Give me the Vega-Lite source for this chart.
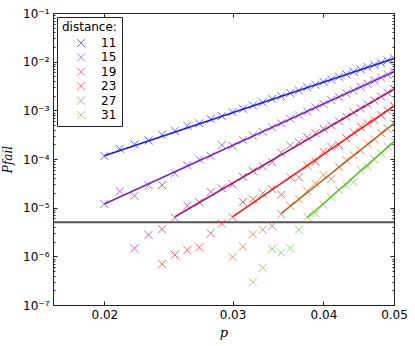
{
  "$schema": "https://vega.github.io/schema/vega-lite/v6.json",
  "width": 341,
  "height": 292,
  "autosize": {"type": "none"},
  "padding": {"left": 53, "top": 13, "right": 21, "bottom": 41},
  "background": "white",
  "config": {
    "font": "DejaVu Sans",
    "view": {"stroke": "#222", "strokeWidth": 1},
    "axis": {"labelFont": "DejaVu Sans", "labelFontSize": 12, "labelColor": "black", "tickColor": "#222", "domain": false, "grid": false}
  },
  "datasets": {
    "pts": [
      {"d": 11, "p": 0.020, "P": 1.15e-4}, {"d": 11, "p": 0.021, "P": 1.62e-4}, {"d": 11, "p": 0.022, "P": 2.0e-4}, {"d": 11, "p": 0.023, "P": 2.4e-4}, {"d": 11, "p": 0.024, "P": 3.16e-4}, {"d": 11, "p": 0.025, "P": 3.8e-4}, {"d": 11, "p": 0.026, "P": 4.8e-4}, {"d": 11, "p": 0.027, "P": 5.4e-4}, {"d": 11, "p": 0.028, "P": 6.6e-4}, {"d": 11, "p": 0.029, "P": 7.6e-4}, {"d": 11, "p": 0.030, "P": 9.2e-4}, {"d": 11, "p": 0.031, "P": 1.08e-3}, {"d": 11, "p": 0.032, "P": 1.26e-3}, {"d": 11, "p": 0.033, "P": 1.45e-3}, {"d": 11, "p": 0.034, "P": 1.72e-3}, {"d": 11, "p": 0.035, "P": 1.95e-3}, {"d": 11, "p": 0.036, "P": 2.26e-3}, {"d": 11, "p": 0.037, "P": 2.57e-3}, {"d": 11, "p": 0.038, "P": 2.99e-3}, {"d": 11, "p": 0.039, "P": 3.35e-3}, {"d": 11, "p": 0.040, "P": 3.85e-3}, {"d": 11, "p": 0.041, "P": 4.3e-3}, {"d": 11, "p": 0.042, "P": 4.9e-3}, {"d": 11, "p": 0.043, "P": 5.5e-3}, {"d": 11, "p": 0.044, "P": 6.2e-3}, {"d": 11, "p": 0.045, "P": 6.9e-3}, {"d": 11, "p": 0.046, "P": 7.7e-3}, {"d": 11, "p": 0.047, "P": 8.6e-3}, {"d": 11, "p": 0.048, "P": 9.5e-3}, {"d": 11, "p": 0.049, "P": 1.06e-2}, {"d": 11, "p": 0.050, "P": 1.17e-2},
      {"d": 15, "p": 0.020, "P": 1.19e-5}, {"d": 15, "p": 0.021, "P": 2.16e-5}, {"d": 15, "p": 0.022, "P": 1.76e-5}, {"d": 15, "p": 0.023, "P": 2.88e-5}, {"d": 15, "p": 0.024, "P": 2.92e-5}, {"d": 15, "p": 0.025, "P": 5.1e-5}, {"d": 15, "p": 0.026, "P": 7.4e-5}, {"d": 15, "p": 0.027, "P": 9.8e-5}, {"d": 15, "p": 0.028, "P": 1.16e-4}, {"d": 15, "p": 0.029, "P": 1.94e-4}, {"d": 15, "p": 0.030, "P": 1.86e-4}, {"d": 15, "p": 0.031, "P": 2.43e-4}, {"d": 15, "p": 0.032, "P": 2.99e-4}, {"d": 15, "p": 0.033, "P": 3.63e-4}, {"d": 15, "p": 0.034, "P": 4.47e-4}, {"d": 15, "p": 0.035, "P": 5.4e-4}, {"d": 15, "p": 0.036, "P": 6.7e-4}, {"d": 15, "p": 0.037, "P": 7.9e-4}, {"d": 15, "p": 0.038, "P": 9.5e-4}, {"d": 15, "p": 0.039, "P": 1.15e-3}, {"d": 15, "p": 0.040, "P": 1.35e-3}, {"d": 15, "p": 0.041, "P": 1.62e-3}, {"d": 15, "p": 0.042, "P": 1.88e-3}, {"d": 15, "p": 0.043, "P": 2.24e-3}, {"d": 15, "p": 0.044, "P": 2.57e-3}, {"d": 15, "p": 0.045, "P": 3.05e-3}, {"d": 15, "p": 0.046, "P": 3.5e-3}, {"d": 15, "p": 0.047, "P": 4.07e-3}, {"d": 15, "p": 0.048, "P": 4.68e-3}, {"d": 15, "p": 0.049, "P": 5.4e-3}, {"d": 15, "p": 0.050, "P": 6.2e-3},
      {"d": 19, "p": 0.022, "P": 1.46e-6}, {"d": 19, "p": 0.023, "P": 2.75e-6}, {"d": 19, "p": 0.024, "P": 3.6e-6}, {"d": 19, "p": 0.025, "P": 6.2e-6}, {"d": 19, "p": 0.026, "P": 1.10e-5}, {"d": 19, "p": 0.027, "P": 1.29e-5}, {"d": 19, "p": 0.028, "P": 2.1e-5}, {"d": 19, "p": 0.029, "P": 2.5e-5}, {"d": 19, "p": 0.030, "P": 3.0e-5}, {"d": 19, "p": 0.031, "P": 4.3e-5}, {"d": 19, "p": 0.032, "P": 5.7e-5}, {"d": 19, "p": 0.033, "P": 7.1e-5}, {"d": 19, "p": 0.034, "P": 8.6e-5}, {"d": 19, "p": 0.035, "P": 1.35e-4}, {"d": 19, "p": 0.036, "P": 1.9e-4}, {"d": 19, "p": 0.037, "P": 2.2e-4}, {"d": 19, "p": 0.038, "P": 2.8e-4}, {"d": 19, "p": 0.039, "P": 3.4e-4}, {"d": 19, "p": 0.040, "P": 4.2e-4}, {"d": 19, "p": 0.041, "P": 4.9e-4}, {"d": 19, "p": 0.042, "P": 6.0e-4}, {"d": 19, "p": 0.043, "P": 7.4e-4}, {"d": 19, "p": 0.044, "P": 9.0e-4}, {"d": 19, "p": 0.045, "P": 1.10e-3}, {"d": 19, "p": 0.046, "P": 1.32e-3}, {"d": 19, "p": 0.047, "P": 1.60e-3}, {"d": 19, "p": 0.048, "P": 1.92e-3}, {"d": 19, "p": 0.049, "P": 2.3e-3}, {"d": 19, "p": 0.050, "P": 2.74e-3},
      {"d": 23, "p": 0.024, "P": 6.9e-7}, {"d": 23, "p": 0.025, "P": 1.07e-6}, {"d": 23, "p": 0.026, "P": 1.35e-6}, {"d": 23, "p": 0.027, "P": 1.53e-6}, {"d": 23, "p": 0.028, "P": 2.97e-6}, {"d": 23, "p": 0.029, "P": 4.7e-6}, {"d": 23, "p": 0.030, "P": 6.4e-6}, {"d": 23, "p": 0.031, "P": 1.31e-5}, {"d": 23, "p": 0.032, "P": 1.49e-5}, {"d": 23, "p": 0.033, "P": 1.97e-5}, {"d": 23, "p": 0.034, "P": 2.42e-5}, {"d": 23, "p": 0.035, "P": 1.86e-5}, {"d": 23, "p": 0.036, "P": 4.2e-5}, {"d": 23, "p": 0.037, "P": 4.2e-5}, {"d": 23, "p": 0.038, "P": 7.3e-5}, {"d": 23, "p": 0.039, "P": 8.8e-5}, {"d": 23, "p": 0.040, "P": 1.41e-4}, {"d": 23, "p": 0.041, "P": 1.79e-4}, {"d": 23, "p": 0.042, "P": 1.94e-4}, {"d": 23, "p": 0.043, "P": 2.66e-4}, {"d": 23, "p": 0.044, "P": 3.54e-4}, {"d": 23, "p": 0.045, "P": 4.6e-4}, {"d": 23, "p": 0.046, "P": 5.4e-4}, {"d": 23, "p": 0.047, "P": 6.3e-4}, {"d": 23, "p": 0.048, "P": 8.0e-4}, {"d": 23, "p": 0.049, "P": 9.9e-4}, {"d": 23, "p": 0.050, "P": 1.23e-3},
      {"d": 27, "p": 0.030, "P": 9.7e-7}, {"d": 27, "p": 0.031, "P": 1.58e-6}, {"d": 27, "p": 0.032, "P": 2.84e-6}, {"d": 27, "p": 0.033, "P": 3.5e-6}, {"d": 27, "p": 0.034, "P": 4.2e-6}, {"d": 27, "p": 0.035, "P": 7.3e-6}, {"d": 27, "p": 0.036, "P": 1.1e-5}, {"d": 27, "p": 0.037, "P": 1.5e-5}, {"d": 27, "p": 0.038, "P": 2.2e-5}, {"d": 27, "p": 0.039, "P": 3.17e-5}, {"d": 27, "p": 0.040, "P": 4.7e-5}, {"d": 27, "p": 0.041, "P": 3.9e-5}, {"d": 27, "p": 0.042, "P": 6.9e-5}, {"d": 27, "p": 0.043, "P": 9.5e-5}, {"d": 27, "p": 0.044, "P": 1.2e-4}, {"d": 27, "p": 0.045, "P": 1.5e-4}, {"d": 27, "p": 0.046, "P": 2.05e-4}, {"d": 27, "p": 0.047, "P": 2.55e-4}, {"d": 27, "p": 0.048, "P": 3.4e-4}, {"d": 27, "p": 0.049, "P": 4.2e-4}, {"d": 27, "p": 0.050, "P": 5.4e-4},
      {"d": 31, "p": 0.032, "P": 2.93e-7}, {"d": 31, "p": 0.033, "P": 5.85e-7}, {"d": 31, "p": 0.034, "P": 1.42e-6}, {"d": 31, "p": 0.035, "P": 1.19e-6}, {"d": 31, "p": 0.036, "P": 1.46e-6}, {"d": 31, "p": 0.037, "P": 3.5e-6}, {"d": 31, "p": 0.038, "P": 6.5e-6}, {"d": 31, "p": 0.039, "P": 7.7e-6}, {"d": 31, "p": 0.040, "P": 1.15e-5}, {"d": 31, "p": 0.041, "P": 1.65e-5}, {"d": 31, "p": 0.042, "P": 2.31e-5}, {"d": 31, "p": 0.043, "P": 2.85e-5}, {"d": 31, "p": 0.044, "P": 3.35e-5}, {"d": 31, "p": 0.045, "P": 6.0e-5}, {"d": 31, "p": 0.046, "P": 6.9e-5}, {"d": 31, "p": 0.047, "P": 9.9e-5}, {"d": 31, "p": 0.048, "P": 1.31e-4}, {"d": 31, "p": 0.049, "P": 1.79e-4}, {"d": 31, "p": 0.050, "P": 2.3e-4}
    ],
    "fit": [
      {"s": "11", "p": 0.020, "P": 1.17e-4}, {"s": "11", "p": 0.050, "P": 1.17e-2},
      {"s": "15", "p": 0.020, "P": 1.19e-5}, {"s": "15", "p": 0.050, "P": 6.2e-3},
      {"s": "19", "p": 0.025, "P": 6.5e-6}, {"s": "19", "p": 0.050, "P": 2.74e-3},
      {"s": "23", "p": 0.030, "P": 6.5e-6}, {"s": "23", "p": 0.050, "P": 1.23e-3},
      {"s": "27", "p": 0.035, "P": 7.65e-6}, {"s": "27", "p": 0.050, "P": 5.4e-4},
      {"s": "31", "p": 0.038, "P": 6.2e-6}, {"s": "31", "p": 0.050, "P": 2.27e-4}
    ],
    "thr": [{"t": 5e-6}]
  },
  "resolve": {"scale": {"x": "shared", "y": "shared"}, "axis": {"x": "independent", "y": "independent"}},
  "layer": [
    {
      "data": {"name": "thr"},
      "mark": {"type": "rule", "color": "#555", "strokeWidth": 2},
      "encoding": {
        "y": {
          "field": "t", "type": "quantitative",
          "scale": {"type": "log", "domain": [1e-7, 0.1], "nice": false},
          "axis": {
            "orient": "left",
            "title": "Pfail",
            "titleFont": "DejaVu Serif", "titleFontStyle": "italic", "titleFontWeight": "normal", "titleFontSize": 12, "titleColor": "black", "titlePadding": 8,
            "values": [1e-7, 2e-7, 3e-7, 4e-7, 5e-7, 6e-7, 7e-7, 8e-7, 9e-7, 1e-6, 2e-6, 3e-6, 4e-6, 5e-6, 6e-6, 7e-6, 8e-6, 9e-6, 1e-5, 2e-5, 3e-5, 4e-5, 5e-5, 6e-5, 7e-5, 8e-5, 9e-5, 1e-4, 2e-4, 3e-4, 4e-4, 5e-4, 6e-4, 7e-4, 8e-4, 9e-4, 1e-3, 2e-3, 3e-3, 4e-3, 5e-3, 6e-3, 7e-3, 8e-3, 9e-3, 0.01, 0.02, 0.03, 0.04, 0.05, 0.06, 0.07, 0.08, 0.09, 0.1],
            "labelExpr": "abs(log(datum.value)/LN10 - round(log(datum.value)/LN10)) < 0.01 ? '10⁻' + ['⁰','¹','²','³','⁴','⁵','⁶','⁷','⁸','⁹'][-round(log(datum.value)/LN10)] : ''",
            "tickSize": {"condition": {"test": "abs(log(datum.value)/LN10 - round(log(datum.value)/LN10)) < 0.01", "value": -4}, "value": -2},
            "labelPadding": 8,
            "labelOverlap": false,
            "labelBound": false
          }
        }
      }
    },
    {
      "data": {"name": "fit"},
      "mark": {"type": "line", "strokeWidth": 1.5, "clip": true},
      "encoding": {
        "x": {
          "field": "p", "type": "quantitative",
          "scale": {"type": "log", "domain": [0.017, 0.05], "nice": false},
          "axis": {
            "orient": "bottom", "values": [0.02, 0.03, 0.04, 0.05], "format": ".2f",
            "tickSize": -4, "labelPadding": 8, "labelFlush": false,
            "title": "p", "titleFont": "DejaVu Serif", "titleFontStyle": "italic", "titleFontWeight": "normal", "titleFontSize": 13, "titleColor": "black", "titlePadding": 6
          }
        },
        "y": {
          "field": "P", "type": "quantitative",
          "scale": {"type": "log", "domain": [1e-7, 0.1], "nice": false},
          "axis": {
            "orient": "right", "title": null, "labels": false,
            "values": [1e-7, 2e-7, 3e-7, 4e-7, 5e-7, 6e-7, 7e-7, 8e-7, 9e-7, 1e-6, 2e-6, 3e-6, 4e-6, 5e-6, 6e-6, 7e-6, 8e-6, 9e-6, 1e-5, 2e-5, 3e-5, 4e-5, 5e-5, 6e-5, 7e-5, 8e-5, 9e-5, 1e-4, 2e-4, 3e-4, 4e-4, 5e-4, 6e-4, 7e-4, 8e-4, 9e-4, 1e-3, 2e-3, 3e-3, 4e-3, 5e-3, 6e-3, 7e-3, 8e-3, 9e-3, 0.01, 0.02, 0.03, 0.04, 0.05, 0.06, 0.07, 0.08, 0.09, 0.1],
            "tickSize": {"condition": {"test": "abs(log(datum.value)/LN10 - round(log(datum.value)/LN10)) < 0.01", "value": -4}, "value": -2}
          }
        },
        "stroke": {
          "field": "s", "type": "nominal",
          "scale": {"domain": ["11", "15", "19", "23", "27", "31"], "range": ["#1414ff", "#7422c4", "#aa1470", "#ff1010", "#b5641e", "#62bf20"]},
          "legend": null
        },
        "detail": {"field": "s"}
      }
    },
    {
      "data": {"name": "pts"},
      "mark": {"type": "point", "shape": "M-1,-1L1,1M-1,1L1,-1", "filled": false, "strokeWidth": 1, "size": 64, "opacity": 0.65, "clip": true},
      "encoding": {
        "x": {
          "field": "p", "type": "quantitative",
          "scale": {"type": "log", "domain": [0.017, 0.05], "nice": false},
          "axis": {"orient": "top", "values": [0.02, 0.03, 0.04, 0.05], "labels": false, "tickSize": -4, "title": null}
        },
        "y": {
          "field": "P", "type": "quantitative",
          "scale": {"type": "log", "domain": [1e-7, 0.1], "nice": false},
          "axis": null
        },
        "color": {
          "field": "d", "type": "nominal",
          "scale": {"domain": [11, 15, 19, 23, 27, 31], "range": ["#1414ff", "#7422c4", "#aa1470", "#ff1010", "#b5641e", "#62bf20"]},
          "legend": {
            "title": "distance:", "orient": "top-left", "offset": 4, "padding": 5,
            "strokeColor": "#222", "fillColor": "white", "cornerRadius": 0,
            "titleFont": "DejaVu Sans", "titleFontSize": 12, "titleFontWeight": "normal", "titleColor": "black", "titlePadding": 3,
            "labelFont": "DejaVu Sans", "labelFontSize": 12, "labelColor": "black", "labelOffset": 14,
            "symbolType": "M-1,-1L1,1M-1,1L1,-1", "symbolSize": 64, "symbolStrokeWidth": 1, "symbolOpacity": 0.6, "symbolOffset": 13,
            "rowPadding": 2.4
          }
        }
      }
    }
  ]
}
